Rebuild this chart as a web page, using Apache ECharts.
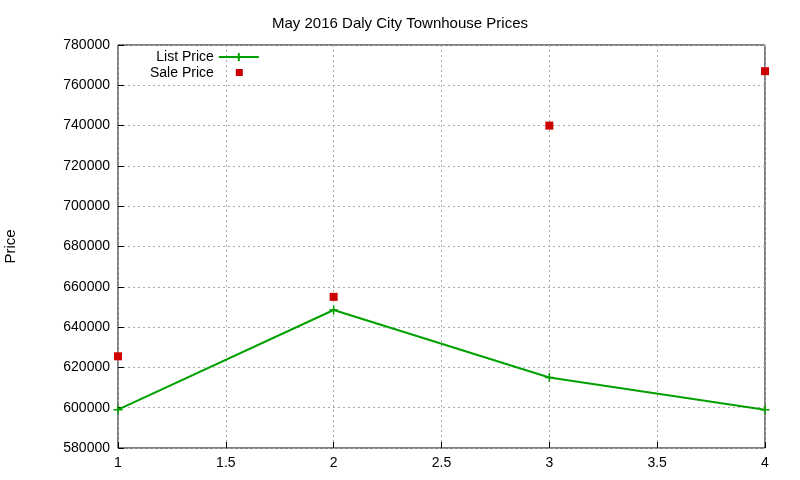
<!DOCTYPE html>
<html><head><meta charset="utf-8">
<script src="https://cdn.jsdelivr.net/npm/echarts@6/dist/echarts.min.js"></script>
<style>html,body{margin:0;background:#fff}#c{width:800px;height:480px}</style>
</head><body><div id="c"></div>
<script>
const xs = [1, 2, 3, 4];
const listPrice = [599000, 648500, 615000, 599000];
const salePrice = [625500, 655000, 740000, 767000];
const title = 'May 2016 Daly City Townhouse Prices';
const font = 'Liberation Sans';
const chart = echarts.init(document.getElementById('c'));
const plus = 'path://M0,5L10,5M5,0L5,10';
const sq = 'path://M0,0L0.01,0L0,0.01Z M17,1L24,1L24,8L17,8Z M40,10L39.99,10L40,9.99Z';
chart.setOption({
  animation: false,
  textStyle: {fontFamily: font},
  title: {text: title, left: 'center', top: 11, textStyle: {fontSize: 15, fontWeight: 'normal', color: '#000', fontFamily: font}},
  grid: {left: 118, right: 35, top: 45, bottom: 32, containLabel: false, outerBoundsMode: 'none', show: true, borderColor: '#000', borderWidth: 1},
  legend: {orient: 'vertical', left: 145, top: 45, align: 'right', itemGap: 2, itemWidth: 40, itemHeight: 10,
    textStyle: {fontSize: 14, color: '#000', fontFamily: font},
    data: [{name: 'List Price'}, {name: 'Sale Price', icon: sq}]},
  xAxis: {type: 'value', min: 1, max: 4, interval: 0.5,
    axisLine: {show: false}, axisTick: {inside: true, length: 6, lineStyle: {color: '#000'}},
    axisLabel: {color: '#000', fontSize: 14, fontFamily: font, margin: 8},
    splitLine: {lineStyle: {color: '#aaa', type: [2, 3]}}},
  yAxis: {type: 'value', min: 580000, max: 780000, interval: 20000, name: 'Price', nameLocation: 'middle', nameGap: 100,
    nameTextStyle: {fontSize: 15, color: '#000', fontFamily: font},
    axisLine: {show: false}, axisTick: {inside: true, length: 6, lineStyle: {color: '#000'}},
    axisLabel: {color: '#000', fontSize: 14, fontFamily: font, margin: 8, formatter: v => String(v)},
    splitLine: {lineStyle: {color: '#aaa', type: [2, 3]}}},
  series: [
    {name: 'List Price', type: 'line', data: xs.map((x, i) => [x, listPrice[i]]),
      symbol: plus, symbolSize: 9, showAllSymbol: true,
      lineStyle: {color: '#00a000', width: 2}, itemStyle: {color: '#00a000', borderColor: '#00a000', borderWidth: 1.5}},
    {name: 'Sale Price', type: 'scatter', data: xs.map((x, i) => [x, salePrice[i]]),
      symbol: 'rect', symbolSize: 8, itemStyle: {color: '#cc0000', opacity: 1}}
  ]
});
</script></body></html>
